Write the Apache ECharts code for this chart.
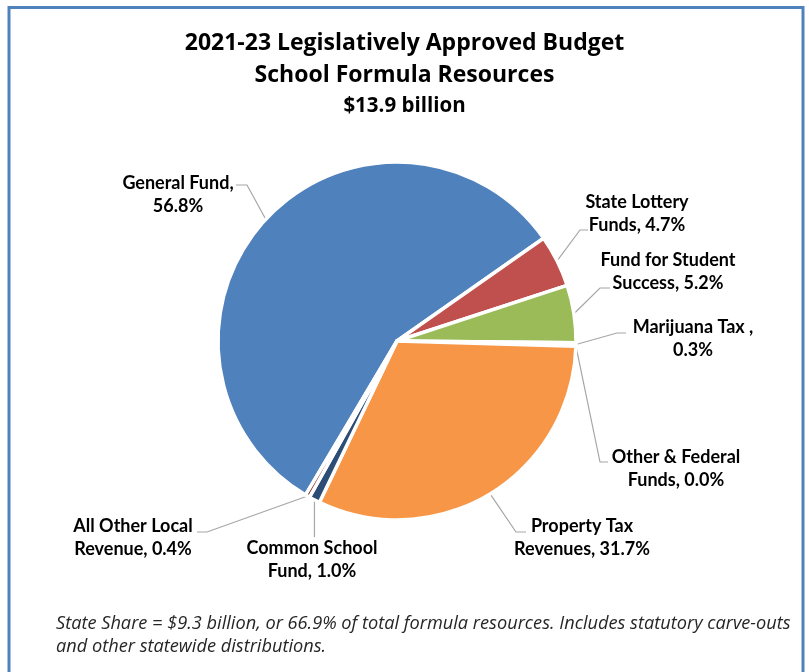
<!DOCTYPE html>
<html>
<head>
<meta charset="utf-8">
<title>School Formula Resources</title>
<script src="https://cdn.jsdelivr.net/npm/echarts@6/dist/echarts.min.js"></script>
<style>
  html, body { margin: 0; padding: 0; background: #ffffff; }
  #chart { width: 809px; height: 672px; }
</style>
</head>
<body>
<div id="chart"></div>
<script>
// Revenue sources, in the order the slices run clockwise
const sourceNames = [
  'General Fund',
  'State Lottery\nFunds',
  'Fund for Student\nSuccess',
  'Marijuana Tax ',
  'Other & Federal\nFunds',
  'Property Tax\nRevenues',
  'Common School\nFund',
  'All Other Local\nRevenue'
];
// Share of total formula resources, percent
const sharePct = [56.8, 4.7, 5.2, 0.3, 0.0, 31.7, 1.0, 0.4];
const sliceColors = ['#4F81BD', '#C0504D', '#9BBB59', '#8064A2', '#4BACC6', '#F79646', '#2C4D75', '#772C2A'];

const titleLines = ['2021-23 Legislatively Approved Budget', 'School Formula Resources'];
const subTitle = '$13.9 billion';
const footNote = 'State Share = $9.3 billion, or 66.9% of total formula resources. Includes statutory carve-outs\nand other statewide distributions.';

// Label placement: centre of each two-line label, leader end relative to it, elbow run
const labelSpots = [
  { x: 178, y: 194.5, ex: 58,  ey: -9.5, elbow: 11 },
  { x: 637, y: 214,   ex: -49, ey: 16,   elbow: -8 },
  { x: 668, y: 271.5, ex: -58, ey: 16.5, elbow: -10 },
  { x: 693, y: 339,   ex: -67, ey: -6,   elbow: -9 },
  { x: 676, y: 468.5, ex: -68, ey: -6.5, elbow: -8 },
  { x: 582, y: 537.5, ex: -56, ey: -5.5, elbow: -10 },
  { x: 312, y: 560,   ex: 0,   ey: -23,  elbow: null },
  { x: 133, y: 537.5, ex: 64,  ey: -5.5, elbow: 10 }
];

const LABEL_FONT = 'Lato, "Open Sans", sans-serif';
const HEAD_FONT = '"Open Sans", Lato, sans-serif';

const chart = echarts.init(document.getElementById('chart'), null, { renderer: 'canvas' });

const pieData = sourceNames.map((name, i) => ({
  name: name,
  value: sharePct[i],
  itemStyle: { color: sliceColors[i] }
}));

chart.setOption({
  animation: false,
  backgroundColor: '#ffffff',
  title: [
    {
      text: titleLines.join('\n'),
      subtext: subTitle,
      left: 'center',
      top: 22,
      itemGap: 2,
      textStyle: { fontFamily: HEAD_FONT, fontWeight: 'bold', fontSize: 23, lineHeight: 32, color: '#000000' },
      subtextStyle: { fontFamily: HEAD_FONT, fontWeight: 'bold', fontSize: 20.5, lineHeight: 26, color: '#000000' }
    },
    {
      text: footNote,
      left: 51,
      top: 607,
      textStyle: { fontFamily: HEAD_FONT, fontStyle: 'italic', fontWeight: 'normal', fontSize: 18.2, lineHeight: 23, color: '#262626' }
    }
  ],
  graphic: [
    {
      type: 'rect',
      silent: true,
      shape: { x: 9, y: 7.5, width: 794, height: 720 },
      style: { fill: 'none', stroke: '#4F81BD', lineWidth: 3 }
    }
  ],
  series: [
    {
      type: 'pie',
      center: [397, 341],
      radius: 179,
      startAngle: 239.3,
      clockwise: true,
      avoidLabelOverlap: false,
      emphasis: { disabled: true },
      itemStyle: { borderColor: '#ffffff', borderWidth: 3.5 },
      label: {
        show: true,
        fontFamily: LABEL_FONT,
        fontWeight: 'bold',
        fontSize: 18,
        lineHeight: 23,
        color: '#000000',
        align: 'center',
        formatter: p => p.name + ',' + (p.name.indexOf('\n') >= 0 ? ' ' : '\n') + p.value.toFixed(1) + '%'
      },
      labelLine: {
        show: true,
        length: 10,
        length2: 10,
        lineStyle: { color: '#A6A6A6', width: 1.2 }
      },
      labelLayout: function (params) {
        const s = labelSpots[params.dataIndex];
        const p0 = params.labelLinePoints ? params.labelLinePoints[0] : [s.x, s.y];
        const end = [s.x + s.ex, s.y + s.ey];
        let pts;
        if (s.elbow === null) {
          pts = [p0, [p0[0], end[1]]];
        } else {
          pts = [p0, [end[0] + s.elbow, end[1]], end];
        }
        return {
          x: s.x,
          y: s.y,
          align: 'center',
          verticalAlign: 'middle',
          labelLinePoints: pts
        };
      },
      data: pieData
    }
  ]
});
</script>
</body>
</html>
